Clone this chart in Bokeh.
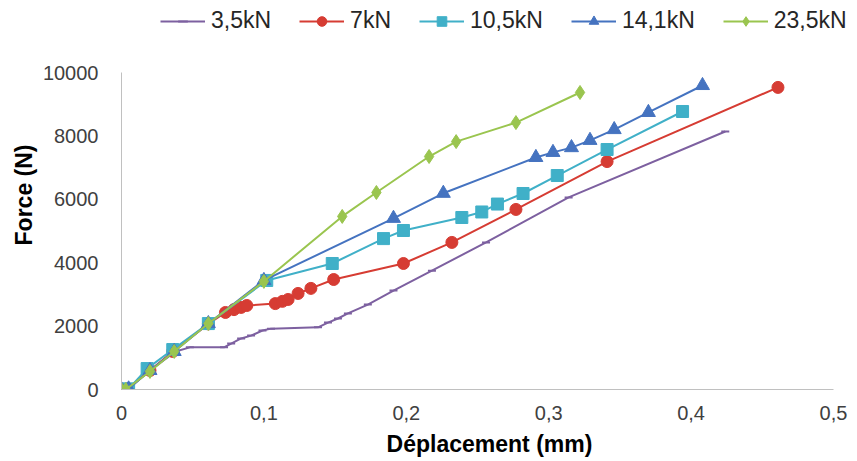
from bokeh.plotting import figure
from bokeh.models import Range1d, FixedTicker, CustomJSTickFormatter, Legend, LegendItem
from bokeh.embed import file_html
from bokeh.resources import INLINE

# ---- data ----
x_35 = [0, 0.005, 0.02, 0.038, 0.048, 0.072, 0.077, 0.084, 0.091, 0.099, 0.105, 0.138, 0.145, 0.152, 0.159, 0.173, 0.191, 0.218, 0.256, 0.314, 0.424]
f_35 = [0, 30, 600, 1200, 1330, 1330, 1450, 1610, 1700, 1860, 1920, 1960, 2110, 2240, 2400, 2680, 3120, 3750, 4640, 6060, 8140]

x_7 = [0, 0.004, 0.02, 0.036, 0.061, 0.073, 0.079, 0.084, 0.088, 0.108, 0.113, 0.117, 0.124, 0.133, 0.149, 0.198, 0.232, 0.277, 0.341, 0.461]
f_7 = [0, 20, 600, 1200, 2070, 2430, 2520, 2590, 2650, 2710, 2780, 2840, 3030, 3190, 3470, 3975, 4640, 5680, 7190, 9530]

x_105 = [0, 0.005, 0.018, 0.036, 0.061, 0.102, 0.148, 0.184, 0.198, 0.239, 0.253, 0.264, 0.282, 0.306, 0.341, 0.394]
f_105 = [0, 20, 660, 1260, 2080, 3440, 3975, 4760, 5016, 5426, 5600, 5850, 6183, 6750, 7570, 8770]

x_141 = [0, 0.005, 0.02, 0.037, 0.061, 0.1, 0.191, 0.226, 0.291, 0.303, 0.316, 0.329, 0.346, 0.37, 0.408]
f_141 = [0, 20, 600, 1200, 2080, 3440, 5400, 6190, 7320, 7480, 7630, 7860, 8200, 8740, 9590]

x_235 = [0, 0.003, 0.02, 0.037, 0.061, 0.1, 0.155, 0.179, 0.216, 0.235, 0.277, 0.322]
f_235 = [0, 0, 570, 1200, 2080, 3410, 5460, 6215, 7350, 7820, 8420, 9370]

labels = ["3,5kN", "7kN", "10,5kN", "14,1kN", "23,5kN"]
x_ticks = [0, 0.1, 0.2, 0.3, 0.4, 0.5]
y_ticks = [0, 2000, 4000, 6000, 8000, 10000]

series = [
    (x_35, f_35, "#7d60a0", "dash", 8),
    (x_7, f_7, "#d63c33", "circle", 12),
    (x_105, f_105, "#40b0c8", "square", 12),
    (x_141, f_141, "#4573c0", "triangle", 14),
    (x_235, f_235, "#9ac54f", "diamond", 14),
]

# frame extends to the top/right edges so that the legend can sit inside it;
# axis lines are bounded to the real data range (0..0.5, 0..10000)
p = figure(width=857, height=461, output_backend="svg", toolbar_location=None,
           x_range=Range1d(0, 0.5 * 736 / 712), y_range=Range1d(0, 10000 * 389 / 317),
           min_border_left=121, min_border_right=0, min_border_top=0, min_border_bottom=72)
p.outline_line_color = None
p.xgrid.grid_line_color = None
p.ygrid.grid_line_color = None
p.background_fill_color = "white"

for ax in (p.xaxis[0], p.yaxis[0]):
    ax.axis_line_color = "#c0c0c0"
    ax.axis_line_width = 1
    ax.major_tick_line_color = None
    ax.minor_tick_line_color = None
    ax.major_label_text_font = "Liberation Sans"
    ax.major_label_text_font_size = "20px"
    ax.major_label_text_color = "#404040"
    ax.axis_label_text_font = "Liberation Sans"
    ax.axis_label_text_font_style = "bold"
    ax.axis_label_text_font_size = "23px"
    ax.axis_label_text_color = "#000000"

p.xaxis.bounds = (0, 0.5)
p.xaxis.ticker = FixedTicker(ticks=x_ticks)
p.xaxis.formatter = CustomJSTickFormatter(code="var s = tick.toFixed(1).replace('.', ','); return s === '0,0' ? '0' : s;")
p.xaxis.major_label_standoff = 10
p.xaxis.axis_label = "Déplacement (mm)"
p.xaxis.axis_label_standoff = 8

p.yaxis.bounds = (0, 10000)
p.yaxis.ticker = FixedTicker(ticks=y_ticks)
p.yaxis.formatter = CustomJSTickFormatter(code="return tick.toFixed(0);")
p.yaxis.major_label_standoff = 17
p.yaxis.axis_label = "Force (N)"
p.yaxis.axis_label_standoff = 3

items = []
for (xs, fs, col, mk, sz), lab in zip(series, labels):
    r1 = p.line(xs, fs, line_color=col, line_width=2)
    r2 = p.scatter(xs, fs, marker=mk, size=sz, fill_color=col, line_color=col,
                   line_width=2 if mk == "dash" else 1)
    items.append(LegendItem(label=lab, renderers=[r1, r2]))

legend = Legend(items=items, orientation="horizontal", location=(39, 355),
                label_text_font="Liberation Sans", label_text_font_size="23px",
                label_text_color="#262626", glyph_width=45, glyph_height=24,
                label_standoff=6, spacing=28, padding=0, margin=0,
                border_line_color=None, background_fill_alpha=0)
p.add_layout(legend, "center")

open("out.html", "w").write(file_html(p, INLINE))
